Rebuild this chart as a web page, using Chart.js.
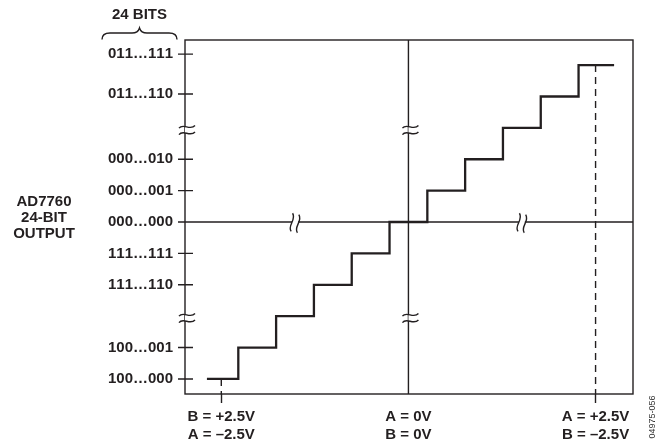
<!DOCTYPE html>
<html>
<head>
<meta charset="utf-8">
<script src="https://cdn.jsdelivr.net/npm/chart.js@4/dist/chart.umd.min.js"></script>
<style>
  html, body { margin: 0; padding: 0; background: #fff; }
  #wrap { position: relative; width: 669px; height: 448px; }
</style>
</head>
<body>
<div id="wrap"><canvas id="transferChart" width="669" height="448"></canvas></div>
<script>
// Staircase: tread edges (input, in LSB) and the output code level of each tread
const stepEdges = [-5.33, -4.5, -3.5, -2.5, -1.5, -0.5, 0.5, 1.5, 2.5, 3.5, 4.5, 5.44];
const stepLevels = [-5, -4, -3, -2, -1, 0, 1, 2, 3, 4, 5];

// Output code ticks (y)
const codeTickValues = [5.35, 4.08, 2, 1, 0, -1, -2, -4, -5];
const codeTickLabels = ['011…111', '011…110', '000…010', '000…001', '000…000',
                        '111…111', '111…110', '100…001', '100…000'];

// Input ticks (x)
const inputTickValues = [-4.95, 0, 4.95];
const inputTickLabels = [['B = +2.5V', 'A = –2.5V'], ['A = 0V', 'B = 0V'], ['A = +2.5V', 'B = –2.5V']];

// Full-scale markers (dashed): x position and code level where they start
const fullScaleX = [-4.95, 4.95];
const fullScaleLevel = [-5, 5];

// Axis break marks
const breakCodes = [2.93, -3.06];
const breakInputs = [-3, 3];

const X_MIN = -5.91, X_MAX = 5.94;
const Y_MIN = -5.48, Y_MAX = 5.8;

const ink = '#231f20';
const fontFamily = '"Liberation Sans", Arial, Helvetica, sans-serif';
Chart.defaults.font.family = fontFamily;

// build staircase vertices from the arrays
const stairPoints = [];
stepLevels.forEach((lvl, i) => {
  stairPoints.push({ x: stepEdges[i], y: lvl });
  stairPoints.push({ x: stepEdges[i + 1], y: lvl });
});

function drawBreak(ctx, cx, cy, angle, vertical) {
  ctx.save();
  ctx.fillStyle = '#fff';
  if (vertical) ctx.fillRect(cx - 2, cy - 3, 4, 6);
  else ctx.fillRect(cx - 3, cy - 2, 6, 4);
  ctx.translate(cx, cy);
  ctx.rotate(angle);
  ctx.strokeStyle = ink;
  ctx.lineWidth = 1.4;
  const half = vertical ? 8 : 9;
  [-3.2, 3.2].forEach(o => {
    ctx.beginPath();
    ctx.moveTo(-half, o + 1.3);
    ctx.bezierCurveTo(-half / 2, o - 4.2, half / 2.5, o + 4.2, half, o - 1.3);
    ctx.stroke();
  });
  ctx.restore();
}

const framePlugin = {
  id: 'frame',
  beforeDraw(chart) {
    // equal-width digits, no pair kerning (as in the original labels)
    chart.ctx.fontKerning = 'none';
  },
  beforeDatasetsDraw(chart) {
    const { ctx, chartArea: a, scales: { x, y } } = chart;
    const x0 = x.getPixelForValue(0), y0 = y.getPixelForValue(0);
    ctx.save();
    ctx.strokeStyle = ink;
    ctx.lineWidth = 1.4;
    ctx.strokeRect(a.left, a.top, a.right - a.left, a.bottom - a.top);
    ctx.beginPath();
    ctx.moveTo(x0, a.top); ctx.lineTo(x0, a.bottom);
    ctx.moveTo(a.left, y0); ctx.lineTo(a.right, y0);
    codeTickValues.forEach(v => {
      const p = y.getPixelForValue(v);
      ctx.moveTo(a.left - 7, p); ctx.lineTo(a.left + 8, p);
    });
    ctx.stroke();
    ctx.restore();
  },
  afterDraw(chart) {
    const { ctx, chartArea: a, scales: { x, y } } = chart;
    const x0 = x.getPixelForValue(0), y0 = y.getPixelForValue(0);
    breakCodes.forEach(v => {
      const p = y.getPixelForValue(v);
      drawBreak(ctx, a.left + 2, p, 0, true);
      drawBreak(ctx, x0 + 2, p, 0, true);
    });
    breakInputs.forEach(v => {
      drawBreak(ctx, x.getPixelForValue(v), y0 + 1, -1.35, false);
    });

    ctx.save();
    ctx.fontKerning = 'none';
    ctx.fillStyle = ink;
    ctx.font = 'bold 15px ' + fontFamily;
    ctx.textAlign = 'center';
    ctx.textBaseline = 'middle';
    ctx.fillText('24 BITS', 139.5, 15);
    ['AD7760', '24-BIT', 'OUTPUT'].forEach((t, i) => ctx.fillText(t, 44, 202 + i * 16));

    // brace over the code labels
    ctx.strokeStyle = ink;
    ctx.lineWidth = 1.4;
    ctx.beginPath();
    ctx.moveTo(102, 39.5);
    ctx.quadraticCurveTo(102, 33, 110, 33);
    ctx.lineTo(132, 33);
    ctx.quadraticCurveTo(138, 33, 139.5, 28);
    ctx.quadraticCurveTo(141, 33, 147, 33);
    ctx.lineTo(169, 33);
    ctx.quadraticCurveTo(177, 33, 177, 39.5);
    ctx.stroke();

    // figure number
    ctx.translate(653, 417);
    ctx.rotate(-Math.PI / 2);
    ctx.font = '9px ' + fontFamily;
    ctx.fillStyle = '#333';
    ctx.fillText('04975-056', 0, 0);
    ctx.restore();
  }
};

const datasets = [{
  data: stairPoints,
  showLine: true,
  borderColor: ink,
  borderWidth: 2.3,
  pointRadius: 0,
  fill: false
}];
fullScaleX.forEach((fx, i) => {
  datasets.push({
    data: [{ x: fx, y: fullScaleLevel[i] }, { x: fx, y: Y_MIN }],
    showLine: true,
    borderColor: ink,
    borderWidth: 1.4,
    borderDash: [7, 5],
    pointRadius: 0,
    fill: false
  });
});

new Chart(document.getElementById('transferChart'), {
  type: 'scatter',
  data: { datasets: datasets },
  options: {
    responsive: false,
    animation: false,
    layout: { padding: { top: 40, right: 36, left: 0, bottom: 0 } },
    plugins: { legend: { display: false }, tooltip: { enabled: false } },
    scales: {
      x: {
        type: 'linear',
        min: X_MIN,
        max: X_MAX,
        afterBuildTicks: s => { s.ticks = inputTickValues.map(v => ({ value: v })); },
        afterFit: s => { s.height = 448 - 394; },
        ticks: {
          callback: (v, i) => inputTickLabels[i],
          font: { size: 15, weight: 'bold', lineHeight: 1.25 },
          color: ink,
          padding: 4,
          maxRotation: 0,
          autoSkip: false
        },
        grid: {
          drawOnChartArea: false,
          tickLength: 9,
          tickWidth: 1.4,
          tickColor: c => (c.tick && c.tick.value === 0) ? 'rgba(0,0,0,0)' : ink
        },
        border: { display: false }
      },
      y: {
        type: 'linear',
        min: Y_MIN,
        max: Y_MAX,
        afterBuildTicks: s => { s.ticks = codeTickValues.map(v => ({ value: v })); },
        afterFit: s => { s.width = 185; },
        ticks: {
          callback: (v, i) => codeTickLabels[i],
          font: { size: 15, weight: 'bold' },
          color: ink,
          padding: 12,
          autoSkip: false
        },
        grid: { display: false, drawTicks: false },
        border: { display: false }
      }
    }
  },
  plugins: [framePlugin]
});
</script>
</body>
</html>
